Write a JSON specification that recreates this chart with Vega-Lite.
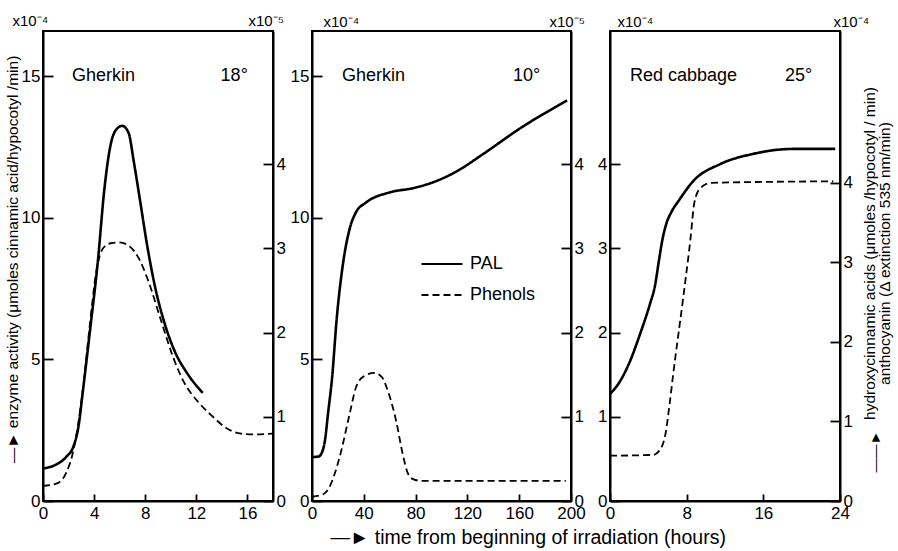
{
  "$schema": "https://vega.github.io/schema/vega-lite/v6.json",
  "autosize": {"type": "pad"},
  "padding": {"left": 4, "top": 12, "right": 5, "bottom": 5},
  "background": "white",
  "spacing": 39,
  "bounds": "flush",
  "config": {
    "font": "Liberation Sans",
    "view": {"stroke": "black", "strokeWidth": 2},
    "axis": {"grid": false, "domainColor": "black", "domainWidth": 2, "tickColor": "black", "tickWidth": 1.8, "labelColor": "black", "labelFont": "Liberation Sans", "labelFontSize": 17, "titleColor": "black", "titleFont": "Liberation Sans", "titleFontWeight": "normal", "labelOverlap": false, "labelFlush": false},
    "axisX": {"tickSize": -7, "labelPadding": 11},
    "axisY": {"tickSize": -10, "labelPadding": 13},
    "legend": {"symbolType": "stroke", "symbolSize": 1681, "symbolStrokeWidth": 2.2, "symbolStrokeColor": "black", "labelFontSize": 18, "labelColor": "black", "labelFont": "Liberation Sans", "labelOffset": 6, "rowPadding": -4, "padding": 0},
    "text": {"font": "Liberation Sans", "fontSize": 18, "color": "black", "align": "left", "baseline": "alphabetic"}
  },
  "datasets": {
    "p1_pal": [
      {"series": "PAL", "t": 0, "v": 1.15}, {"series": "PAL", "t": 1, "v": 1.28}, {"series": "PAL", "t": 1.8, "v": 1.55}, {"series": "PAL", "t": 2.4, "v": 1.95}, {"series": "PAL", "t": 2.8, "v": 2.7}, {"series": "PAL", "t": 3.1, "v": 3.8}, {"series": "PAL", "t": 3.7, "v": 6.1}, {"series": "PAL", "t": 4.3, "v": 8.5}, {"series": "PAL", "t": 4.8, "v": 11.0}, {"series": "PAL", "t": 5.3, "v": 12.6}, {"series": "PAL", "t": 5.7, "v": 13.1}, {"series": "PAL", "t": 6.2, "v": 13.25}, {"series": "PAL", "t": 6.7, "v": 13.0}, {"series": "PAL", "t": 7.1, "v": 12.0}, {"series": "PAL", "t": 7.6, "v": 10.6}, {"series": "PAL", "t": 8.2, "v": 8.9}, {"series": "PAL", "t": 8.8, "v": 7.5}, {"series": "PAL", "t": 9.5, "v": 6.3}, {"series": "PAL", "t": 10.3, "v": 5.3}, {"series": "PAL", "t": 11.3, "v": 4.5}, {"series": "PAL", "t": 12.5, "v": 3.82}
    ],
    "p1_phen": [
      {"series": "Phenols", "t": 0, "v": 0.18}, {"series": "Phenols", "t": 1.1, "v": 0.21}, {"series": "Phenols", "t": 1.8, "v": 0.33}, {"series": "Phenols", "t": 2.3, "v": 0.55}, {"series": "Phenols", "t": 2.75, "v": 0.91}, {"series": "Phenols", "t": 3.1, "v": 1.3}, {"series": "Phenols", "t": 3.6, "v": 2.0}, {"series": "Phenols", "t": 4.2, "v": 2.75}, {"series": "Phenols", "t": 4.7, "v": 3.0}, {"series": "Phenols", "t": 5.3, "v": 3.06}, {"series": "Phenols", "t": 6.0, "v": 3.07}, {"series": "Phenols", "t": 6.8, "v": 3.02}, {"series": "Phenols", "t": 7.5, "v": 2.88}, {"series": "Phenols", "t": 8.2, "v": 2.63}, {"series": "Phenols", "t": 9.2, "v": 2.16}, {"series": "Phenols", "t": 10.2, "v": 1.7}, {"series": "Phenols", "t": 11.0, "v": 1.42}, {"series": "Phenols", "t": 12.3, "v": 1.15}, {"series": "Phenols", "t": 13.3, "v": 1.0}, {"series": "Phenols", "t": 14.4, "v": 0.86}, {"series": "Phenols", "t": 15.5, "v": 0.8}, {"series": "Phenols", "t": 16.5, "v": 0.79}, {"series": "Phenols", "t": 18, "v": 0.8}
    ],
    "p2_pal": [
      {"series": "PAL", "t": 0, "v": 1.55}, {"series": "PAL", "t": 5, "v": 1.57}, {"series": "PAL", "t": 8, "v": 1.75}, {"series": "PAL", "t": 10, "v": 2.14}, {"series": "PAL", "t": 12.4, "v": 3.1}, {"series": "PAL", "t": 15.4, "v": 4.3}, {"series": "PAL", "t": 19.2, "v": 6.5}, {"series": "PAL", "t": 24, "v": 8.4}, {"series": "PAL", "t": 29, "v": 9.6}, {"series": "PAL", "t": 34, "v": 10.2}, {"series": "PAL", "t": 42, "v": 10.55}, {"series": "PAL", "t": 60, "v": 10.9}, {"series": "PAL", "t": 78, "v": 11.05}, {"series": "PAL", "t": 96, "v": 11.3}, {"series": "PAL", "t": 112, "v": 11.65}, {"series": "PAL", "t": 132, "v": 12.25}, {"series": "PAL", "t": 162, "v": 13.2}, {"series": "PAL", "t": 197, "v": 14.15}
    ],
    "p2_phen": [
      {"series": "Phenols", "t": 0, "v": 0.05}, {"series": "Phenols", "t": 8.7, "v": 0.08}, {"series": "Phenols", "t": 13, "v": 0.15}, {"series": "Phenols", "t": 17, "v": 0.3}, {"series": "Phenols", "t": 21.5, "v": 0.53}, {"series": "Phenols", "t": 29, "v": 1.03}, {"series": "Phenols", "t": 34, "v": 1.35}, {"series": "Phenols", "t": 40, "v": 1.48}, {"series": "Phenols", "t": 48, "v": 1.52}, {"series": "Phenols", "t": 54, "v": 1.47}, {"series": "Phenols", "t": 58.5, "v": 1.31}, {"series": "Phenols", "t": 65, "v": 0.95}, {"series": "Phenols", "t": 70, "v": 0.56}, {"series": "Phenols", "t": 74, "v": 0.33}, {"series": "Phenols", "t": 78, "v": 0.26}, {"series": "Phenols", "t": 84, "v": 0.24}, {"series": "Phenols", "t": 196, "v": 0.24}
    ],
    "p3_pal": [
      {"series": "PAL", "t": 0, "v": 1.27}, {"series": "PAL", "t": 1.04, "v": 1.42}, {"series": "PAL", "t": 2.09, "v": 1.66}, {"series": "PAL", "t": 3.13, "v": 1.98}, {"series": "PAL", "t": 4.17, "v": 2.34}, {"series": "PAL", "t": 4.7, "v": 2.56}, {"series": "PAL", "t": 5.1, "v": 2.85}, {"series": "PAL", "t": 5.5, "v": 3.12}, {"series": "PAL", "t": 5.9, "v": 3.3}, {"series": "PAL", "t": 6.4, "v": 3.43}, {"series": "PAL", "t": 7.2, "v": 3.57}, {"series": "PAL", "t": 8.7, "v": 3.8}, {"series": "PAL", "t": 11.5, "v": 4.0}, {"series": "PAL", "t": 14.9, "v": 4.12}, {"series": "PAL", "t": 19.1, "v": 4.18}, {"series": "PAL", "t": 23.5, "v": 4.18}
    ],
    "p3_phen": [
      {"series": "Phenols", "t": 0, "v": 0.57}, {"series": "Phenols", "t": 4.5, "v": 0.58}, {"series": "Phenols", "t": 5.3, "v": 0.66}, {"series": "Phenols", "t": 5.8, "v": 0.85}, {"series": "Phenols", "t": 6.2, "v": 1.2}, {"series": "Phenols", "t": 6.6, "v": 1.6}, {"series": "Phenols", "t": 7.6, "v": 2.52}, {"series": "Phenols", "t": 8.4, "v": 3.3}, {"series": "Phenols", "t": 8.8, "v": 3.75}, {"series": "Phenols", "t": 9.4, "v": 3.93}, {"series": "Phenols", "t": 10.5, "v": 4.0}, {"series": "Phenols", "t": 23.3, "v": 4.02}
    ]
  },
  "hconcat": [
    {
      "width": 230, "height": 470,
      "layer": [
        {
          "data": {"name": "p1_pal"},
          "mark": {"type": "line", "interpolate": "monotone", "strokeWidth": 2.6, "color": "black"},
          "encoding": {
            "x": {"field": "t", "type": "quantitative", "scale": {"domain": [0, 18], "nice": false}, "axis": {"values": [0, 4, 8, 12, 16], "title": null}},
            "y": {"field": "v", "type": "quantitative", "scale": {"domain": [0, 16.6], "nice": false}, "axis": {"orient": "left", "values": [0, 5, 10, 15], "title": "x10⁻⁴", "titleAngle": 0, "titleX": -31, "titleY": -6, "titleAlign": "left", "titleBaseline": "alphabetic", "titleFontSize": 15}},
            "strokeDash": {"field": "series", "type": "nominal", "scale": {"domain": ["PAL", "Phenols"], "range": [[1, 0], [7, 4]]}, "legend": {"orient": "none", "legendX": 377, "legendY": 211, "title": null}}
          }
        },
        {
          "data": {"name": "p1_phen"},
          "mark": {"type": "line", "interpolate": "monotone", "strokeWidth": 1.8, "color": "black"},
          "encoding": {
            "x": {"field": "t", "type": "quantitative"},
            "y": {"field": "v", "type": "quantitative", "scale": {"domain": [0, 5.58], "nice": false}, "axis": {"orient": "right", "values": [0, 1, 2, 3, 4], "title": "x10⁻⁵", "titleAngle": 0, "titleX": -25, "titleY": -6, "titleAlign": "left", "titleBaseline": "alphabetic", "titleFontSize": 15}},
            "strokeDash": {"field": "series", "type": "nominal"}
          }
        },
        {
          "data": {"values": [{}]},
          "mark": {"type": "text"},
          "encoding": {
            "x": {"datum": 2.27},
            "y": {"datum": 14.85, "scale": {"domain": [0, 16.6], "nice": false}, "axis": {"orient": "left", "domain": false, "ticks": false, "labels": false, "grid": false, "title": "—► enzyme activity (μmoles cinnamic acid/hypocotyl /min)", "titleAngle": -90, "titleX": -23, "titleY": 228, "titleAlign": "center", "titleBaseline": "bottom", "titleFontSize": 15.5}},
            "text": {"value": "Gherkin"}
          }
        },
        {
          "data": {"values": [{}]},
          "mark": {"type": "text"},
          "encoding": {
            "x": {"datum": 13.9},
            "y": {"datum": 14.85, "scale": {"domain": [0, 16.6], "nice": false}, "axis": null},
            "text": {"value": "18°"}
          }
        }
      ],
      "resolve": {"scale": {"y": "independent"}}
    },
    {
      "width": 259, "height": 470,
      "layer": [
        {
          "data": {"name": "p2_pal"},
          "mark": {"type": "line", "interpolate": "monotone", "strokeWidth": 2.6, "color": "black"},
          "encoding": {
            "x": {"field": "t", "type": "quantitative", "scale": {"domain": [0, 200], "nice": false}, "axis": {"values": [0, 40, 80, 120, 160, 200], "title": "—►  time from beginning of irradiation (hours)", "titleX": 18, "titleY": 42, "titleAlign": "left", "titleAnchor": "start", "titleBaseline": "alphabetic", "titleFontSize": 19.5}},
            "y": {"field": "v", "type": "quantitative", "scale": {"domain": [0, 16.6], "nice": false}, "axis": {"orient": "left", "values": [0, 5, 10, 15], "title": "x10⁻⁴", "titleAngle": 0, "titleX": 11, "titleY": -5, "titleAlign": "left", "titleBaseline": "alphabetic", "titleFontSize": 15}},
            "strokeDash": {"field": "series", "type": "nominal"}
          }
        },
        {
          "data": {"name": "p2_phen"},
          "mark": {"type": "line", "interpolate": "monotone", "strokeWidth": 1.8, "color": "black"},
          "encoding": {
            "x": {"field": "t", "type": "quantitative"},
            "y": {"field": "v", "type": "quantitative", "scale": {"domain": [0, 5.58], "nice": false}, "axis": {"orient": "right", "values": [0, 1, 2, 3, 4], "title": "x10⁻⁵", "titleAngle": 0, "titleX": -22, "titleY": -5, "titleAlign": "left", "titleBaseline": "alphabetic", "titleFontSize": 15}},
            "strokeDash": {"field": "series", "type": "nominal"}
          }
        },
        {
          "data": {"values": [{}]},
          "mark": {"type": "text"},
          "encoding": {
            "x": {"datum": 23.2},
            "y": {"datum": 14.85, "scale": {"domain": [0, 16.6], "nice": false}, "axis": null},
            "text": {"value": "Gherkin"}
          }
        },
        {
          "data": {"values": [{}]},
          "mark": {"type": "text"},
          "encoding": {
            "x": {"datum": 155.2},
            "y": {"datum": 14.85, "scale": {"domain": [0, 16.6], "nice": false}, "axis": null},
            "text": {"value": "10°"}
          }
        }
      ],
      "resolve": {"scale": {"y": "independent"}}
    },
    {
      "width": 230, "height": 470,
      "layer": [
        {
          "data": {"name": "p3_pal"},
          "mark": {"type": "line", "interpolate": "monotone", "strokeWidth": 2.6, "color": "black"},
          "encoding": {
            "x": {"field": "t", "type": "quantitative", "scale": {"domain": [0, 24], "nice": false}, "axis": {"values": [0, 8, 16, 24], "title": null}},
            "y": {"field": "v", "type": "quantitative", "scale": {"domain": [0, 5.58], "nice": false}, "axis": {"orient": "left", "values": [0, 1, 2, 3, 4], "title": "x10⁻⁴", "titleAngle": 0, "titleX": 7, "titleY": -5, "titleAlign": "left", "titleBaseline": "alphabetic", "titleFontSize": 15}},
            "strokeDash": {"field": "series", "type": "nominal"}
          }
        },
        {
          "data": {"name": "p3_phen"},
          "mark": {"type": "line", "interpolate": "monotone", "strokeWidth": 1.8, "color": "black"},
          "encoding": {
            "x": {"field": "t", "type": "quantitative"},
            "y": {"field": "v", "type": "quantitative", "scale": {"domain": [0, 5.91], "nice": false}, "axis": {"orient": "right", "values": [0, 1, 2, 3, 4], "title": "x10⁻⁴", "titleAngle": 0, "titleX": -7, "titleY": -5, "titleAlign": "left", "titleBaseline": "alphabetic", "titleFontSize": 15}},
            "strokeDash": {"field": "series", "type": "nominal"}
          }
        },
        {
          "data": {"values": [{}]},
          "mark": {"type": "text"},
          "encoding": {
            "x": {"datum": 2.09},
            "y": {"datum": 4.99, "scale": {"domain": [0, 5.58], "nice": false}, "axis": {"orient": "right", "domain": false, "ticks": false, "labels": false, "grid": false, "title": ["hydroxycinnamic acids (μmoles /hypocotyl / min)", "anthocyanin (Δ extinction 535 nm/min)"], "titleAngle": -90, "titleX": 22, "titleY": 222, "titleAlign": "center", "titleBaseline": "top", "titleFontSize": 15.5, "titleLineHeight": 15}},
            "text": {"value": "Red cabbage"}
          }
        },
        {
          "data": {"values": [{}]},
          "mark": {"type": "text"},
          "encoding": {
            "x": {"datum": 18.26},
            "y": {"datum": 4.99, "scale": {"domain": [0, 5.58], "nice": false}, "axis": {"orient": "right", "domain": false, "ticks": false, "labels": false, "grid": false, "title": "——►", "titleAngle": -90, "titleX": 35, "titleY": 420, "titleAlign": "center", "titleBaseline": "middle", "titleFontSize": 14}},
            "text": {"value": "25°"}
          }
        }
      ],
      "resolve": {"scale": {"y": "independent"}}
    }
  ]
}
